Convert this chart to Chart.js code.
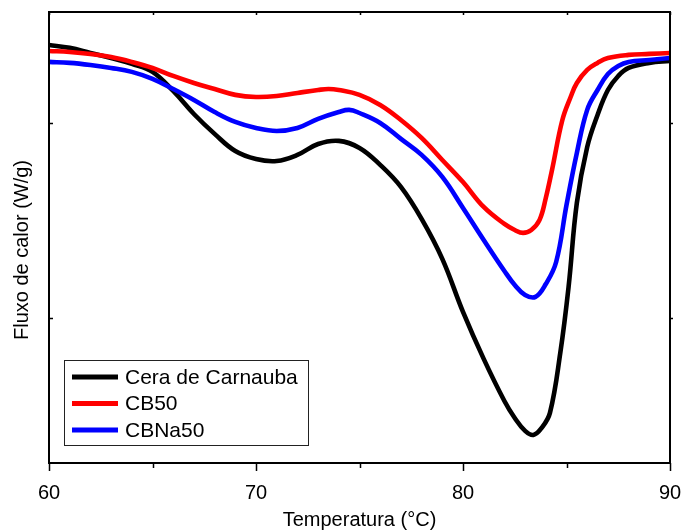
<!DOCTYPE html>
<html lang="pt">
<head>
<meta charset="UTF-8">
<title>DSC - Fluxo de calor</title>
<script src="https://cdn.jsdelivr.net/npm/chart.js"></script>
<style>
    body { margin: 0; padding: 0; background: #fff; }
    #wrap { width: 681px; height: 532px; }
</style>
</head>
<body>
<div id="wrap"><canvas id="grafico" width="681" height="532"></canvas></div>
<script>
// Temperatura (°C) e fluxo de calor (unidades arbitrárias)
const serieNomes = ['Cera de Carnauba', 'CB50', 'CBNa50'];
const serieCores = ['#000000', '#ff0000', '#0000ff'];

const ceraT = [60, 61, 62, 63, 64, 65, 66, 67, 68, 69, 70, 71, 72, 73, 74, 75, 76, 77, 78, 79, 80, 81, 82, 82.5, 83, 83.4, 83.8, 84.2, 84.7, 85.1, 85.5, 86, 86.5, 87, 87.5, 88, 89, 90];
const ceraQ = [1.400, 1.385, 1.359, 1.333, 1.303, 1.262, 1.164, 1.046, 0.944, 0.856, 0.815, 0.805, 0.836, 0.892, 0.908, 0.872, 0.785, 0.672, 0.508, 0.303, 0.031, -0.210, -0.426, -0.513, -0.579, -0.600, -0.564, -0.487, -0.179, 0.159, 0.590, 0.877, 1.041, 1.169, 1.241, 1.282, 1.308, 1.318];

const cb50T = [60, 61, 62, 63, 64, 65, 66, 67, 68, 69, 70, 71, 72, 73, 73.5, 74, 75, 76, 77, 78, 79, 80, 81, 82, 82.5, 82.9, 83.3, 83.7, 84, 84.3, 84.8, 85.2, 85.5, 86, 86.5, 87, 88, 89, 90];
const cb50Q = [1.369, 1.364, 1.354, 1.338, 1.313, 1.282, 1.241, 1.205, 1.174, 1.144, 1.133, 1.138, 1.154, 1.169, 1.174, 1.169, 1.144, 1.092, 1.015, 0.923, 0.810, 0.697, 0.569, 0.482, 0.451, 0.436, 0.451, 0.503, 0.615, 0.759, 1.015, 1.133, 1.205, 1.272, 1.308, 1.333, 1.349, 1.354, 1.359];

const cbna50T = [60, 61, 62, 63, 64, 65, 66, 67, 68, 69, 70, 71, 72, 73, 74, 74.5, 75, 76, 77, 78, 79, 80, 81, 82, 82.5, 83, 83.5, 84, 84.5, 85, 85.5, 86, 86.5, 87, 87.5, 88, 89, 90];
const cbna50Q = [1.313, 1.308, 1.297, 1.282, 1.262, 1.226, 1.174, 1.118, 1.056, 1.005, 0.974, 0.959, 0.974, 1.021, 1.056, 1.067, 1.051, 1.000, 0.918, 0.836, 0.723, 0.564, 0.400, 0.241, 0.169, 0.118, 0.108, 0.174, 0.287, 0.579, 0.846, 1.067, 1.169, 1.251, 1.292, 1.313, 1.323, 1.333];

const xMarcas = [60, 65, 70, 75, 80, 85, 90];
const yMarcas = [0, 1];

const fonte = '"Liberation Sans", Arial, sans-serif';

function pontos(t, q) {
    return t.map((v, i) => ({ x: v, y: q[i] }));
}

// moldura, marcas dos eixos, título do eixo y e legenda
const moldura = {
    id: 'moldura',
    afterDraw(chart) {
        const ctx = chart.ctx;
        const a = chart.chartArea;
        const sx = chart.scales.x;
        const sy = chart.scales.y;
        ctx.save();
        ctx.strokeStyle = '#000';
        ctx.lineWidth = 2;
        ctx.strokeRect(a.left, a.top, a.right - a.left, a.bottom - a.top);

        ctx.lineWidth = 1.5;
        ctx.beginPath();
        xMarcas.forEach(v => {
            const px = Math.round(sx.getPixelForValue(v)) + 0.5;
            const len = v % 10 === 0 ? 8 : 5;
            ctx.moveTo(px, a.bottom);
            ctx.lineTo(px, a.bottom + len);
            ctx.moveTo(px, a.top);
            ctx.lineTo(px, a.top + 3);
        });
        yMarcas.forEach(v => {
            const py = Math.round(sy.getPixelForValue(v)) + 0.5;
            ctx.moveTo(a.left, py);
            ctx.lineTo(a.left + 4, py);
            ctx.moveTo(a.right, py);
            ctx.lineTo(a.right + 3, py);
        });
        ctx.stroke();

        // título do eixo y
        ctx.fillStyle = '#000';
        ctx.font = '20px ' + fonte;
        ctx.translate(22, 250);
        ctx.rotate(-Math.PI / 2);
        ctx.textAlign = 'center';
        ctx.textBaseline = 'middle';
        ctx.fillText('Fluxo de calor (W/g)', 0, 0);
        ctx.restore();

        // legenda
        ctx.save();
        ctx.strokeStyle = '#222';
        ctx.lineWidth = 1;
        ctx.strokeRect(64.5, 360.5, 244, 85);
        ctx.font = '21px ' + fonte;
        ctx.textBaseline = 'middle';
        chart.data.datasets.forEach((ds, i) => {
            const y = 377 + i * 26.5;
            ctx.strokeStyle = ds.borderColor;
            ctx.lineWidth = 5;
            ctx.beginPath();
            ctx.moveTo(72, y);
            ctx.lineTo(118, y);
            ctx.stroke();
            ctx.fillStyle = '#000';
            ctx.fillText(ds.label, 125, y + 1);
        });
        ctx.restore();
    }
};

const series = [[ceraT, ceraQ], [cb50T, cb50Q], [cbna50T, cbna50Q]];

new Chart(document.getElementById('grafico'), {
    type: 'line',
    data: {
        datasets: series.map((s, i) => ({
            label: serieNomes[i],
            data: pontos(s[0], s[1]),
            borderColor: serieCores[i],
            backgroundColor: serieCores[i],
            borderWidth: 4.6,
            pointRadius: 0,
            fill: false,
            tension: 0.4,
            order: 2 - i
        }))
    },
    options: {
        responsive: false,
        animation: false,
        devicePixelRatio: 1,
        layout: { padding: { top: 12, right: 11, left: 0, bottom: 0 } },
        plugins: {
            legend: { display: false },
            tooltip: { enabled: false }
        },
        scales: {
            x: {
                type: 'linear',
                min: 60,
                max: 90,
                grid: { display: false },
                border: { display: false },
                ticks: {
                    stepSize: 5,
                    autoSkip: false,
                    maxRotation: 0,
                    padding: 10,
                    color: '#000',
                    font: { family: fonte, size: 20 },
                    callback: v => (v % 10 === 0 ? v : '')
                },
                title: {
                    display: true,
                    text: 'Temperatura (°C)',
                    color: '#000',
                    font: { family: fonte, size: 20 },
                    padding: { top: 4, bottom: 0 }
                },
                afterFit: s => {
                    s.height = 69;
                    s.paddingLeft = 0;
                    s.paddingRight = 0;
                }
            },
            y: {
                type: 'linear',
                min: -0.744,
                max: 1.569,
                grid: { display: false },
                border: { display: false },
                ticks: { display: false },
                afterBuildTicks: s => { s.ticks = yMarcas.map(v => ({ value: v })); },
                afterFit: s => { s.width = 49; }
            }
        }
    },
    plugins: [moldura]
});
</script>
</body>
</html>
